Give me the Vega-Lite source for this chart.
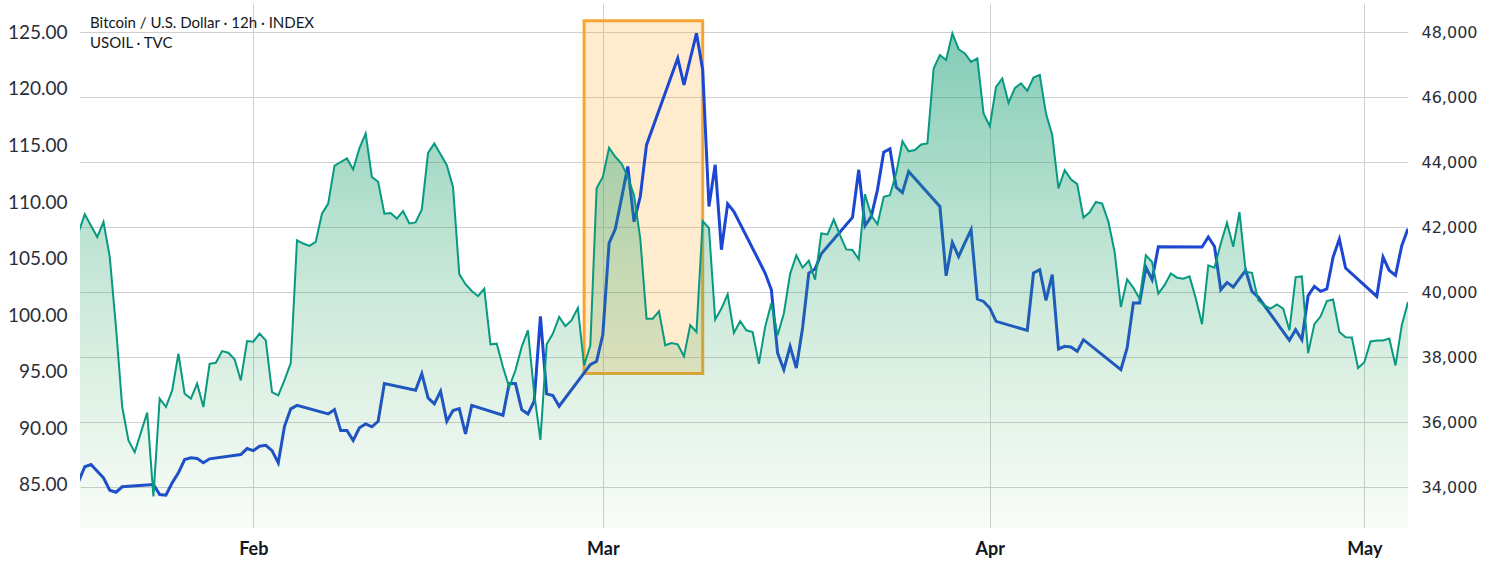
{
"$schema": "https://vega.github.io/schema/vega-lite/v6.json",
"width": 1328, "height": 525,
"autosize": "none",
"padding": {"left": 80, "top": 3, "right": 83, "bottom": 38},
"background": "white",
"config": {
 "view": {"stroke": null},
 "axisX": {"grid": true, "gridColor": "#cfcfcf", "domain": false, "ticks": false, "labelFont": "Lato", "labelFontSize": 18, "labelFontWeight": "bold", "labelColor": "#131722", "labelPadding": 12, "title": null}
},
"title": {"text": ["Bitcoin / U.S. Dollar · 12h · INDEX", "USOIL · TVC"], "anchor": "start", "frame": "group", "orient": "top", "offset": -48, "dx": 10, "font": "Lato", "fontSize": 15, "fontWeight": "normal", "color": "#131722", "lineHeight": 20},
"datasets": {
 "box": [{"start": "2022-02-27T12:00:00Z", "end": "2022-03-09T00:00:00Z", "high": 126.02, "low": 94.85}],
 "btc": [
{"t":"2022-01-18T00:00:00Z","v":41850},{"t":"2022-01-18T12:00:00Z","v":42400},{"t":"2022-01-19T00:00:00Z","v":42050},{"t":"2022-01-19T12:00:00Z","v":41700},
{"t":"2022-01-20T00:00:00Z","v":42170},{"t":"2022-01-20T12:00:00Z","v":41090},{"t":"2022-01-21T00:00:00Z","v":38930},{"t":"2022-01-21T12:00:00Z","v":36470},
{"t":"2022-01-22T00:00:00Z","v":35440},{"t":"2022-01-22T12:00:00Z","v":35080},{"t":"2022-01-23T00:00:00Z","v":35690},{"t":"2022-01-23T12:00:00Z","v":36300},
{"t":"2022-01-24T00:00:00Z","v":33720},{"t":"2022-01-24T12:00:00Z","v":36730},{"t":"2022-01-25T00:00:00Z","v":36470},{"t":"2022-01-25T12:00:00Z","v":36980},
{"t":"2022-01-26T00:00:00Z","v":38110},{"t":"2022-01-26T12:00:00Z","v":36880},{"t":"2022-01-27T00:00:00Z","v":36730},{"t":"2022-01-27T12:00:00Z","v":37190},
{"t":"2022-01-28T00:00:00Z","v":36470},{"t":"2022-01-28T12:00:00Z","v":37800},{"t":"2022-01-29T00:00:00Z","v":37830},{"t":"2022-01-29T12:00:00Z","v":38190},
{"t":"2022-01-30T00:00:00Z","v":38140},{"t":"2022-01-30T12:00:00Z","v":37940},{"t":"2022-01-31T00:00:00Z","v":37290},{"t":"2022-01-31T12:00:00Z","v":38500},
{"t":"2022-02-01T00:00:00Z","v":38480},{"t":"2022-02-01T12:00:00Z","v":38730},{"t":"2022-02-02T00:00:00Z","v":38520},{"t":"2022-02-02T12:00:00Z","v":36930},
{"t":"2022-02-03T00:00:00Z","v":36830},{"t":"2022-02-03T12:00:00Z","v":37300},{"t":"2022-02-04T00:00:00Z","v":37820},{"t":"2022-02-04T12:00:00Z","v":41600},
{"t":"2022-02-05T00:00:00Z","v":41500},{"t":"2022-02-05T12:00:00Z","v":41430},{"t":"2022-02-06T00:00:00Z","v":41550},{"t":"2022-02-06T12:00:00Z","v":42420},
{"t":"2022-02-07T00:00:00Z","v":42730},{"t":"2022-02-07T12:00:00Z","v":43890},{"t":"2022-02-08T00:00:00Z","v":44010},{"t":"2022-02-08T12:00:00Z","v":44120},
{"t":"2022-02-09T00:00:00Z","v":43780},{"t":"2022-02-09T12:00:00Z","v":44430},{"t":"2022-02-10T00:00:00Z","v":44890},{"t":"2022-02-10T12:00:00Z","v":43550},
{"t":"2022-02-11T00:00:00Z","v":43400},{"t":"2022-02-11T12:00:00Z","v":42420},{"t":"2022-02-12T00:00:00Z","v":42440},{"t":"2022-02-12T12:00:00Z","v":42270},
{"t":"2022-02-13T00:00:00Z","v":42500},{"t":"2022-02-13T12:00:00Z","v":42120},{"t":"2022-02-14T00:00:00Z","v":42150},{"t":"2022-02-14T12:00:00Z","v":42550},
{"t":"2022-02-15T00:00:00Z","v":44290},{"t":"2022-02-15T12:00:00Z","v":44580},{"t":"2022-02-16T00:00:00Z","v":44250},{"t":"2022-02-16T12:00:00Z","v":43910},
{"t":"2022-02-17T00:00:00Z","v":43240},{"t":"2022-02-17T12:00:00Z","v":40560},{"t":"2022-02-18T00:00:00Z","v":40250},{"t":"2022-02-18T12:00:00Z","v":40040},
{"t":"2022-02-19T00:00:00Z","v":39880},{"t":"2022-02-19T12:00:00Z","v":40110},{"t":"2022-02-20T00:00:00Z","v":38400},{"t":"2022-02-20T12:00:00Z","v":38420},
{"t":"2022-02-21T00:00:00Z","v":37700},{"t":"2022-02-21T12:00:00Z","v":37080},{"t":"2022-02-22T00:00:00Z","v":37600},{"t":"2022-02-22T12:00:00Z","v":38320},
{"t":"2022-02-23T00:00:00Z","v":38830},{"t":"2022-02-23T12:00:00Z","v":36900},{"t":"2022-02-24T00:00:00Z","v":35460},{"t":"2022-02-24T12:00:00Z","v":38400},
{"t":"2022-02-25T00:00:00Z","v":38730},{"t":"2022-02-25T12:00:00Z","v":39240},{"t":"2022-02-26T00:00:00Z","v":38960},{"t":"2022-02-26T12:00:00Z","v":39140},
{"t":"2022-02-27T00:00:00Z","v":39520},{"t":"2022-02-27T12:00:00Z","v":37750},{"t":"2022-02-28T00:00:00Z","v":38370},{"t":"2022-02-28T12:00:00Z","v":43200},
{"t":"2022-03-01T00:00:00Z","v":43550},{"t":"2022-03-01T12:00:00Z","v":44450},{"t":"2022-03-02T00:00:00Z","v":44170},{"t":"2022-03-02T12:00:00Z","v":43960},
{"t":"2022-03-03T00:00:00Z","v":43550},{"t":"2022-03-03T12:00:00Z","v":42990},{"t":"2022-03-04T00:00:00Z","v":41650},{"t":"2022-03-04T12:00:00Z","v":39190},
{"t":"2022-03-05T00:00:00Z","v":39190},{"t":"2022-03-05T12:00:00Z","v":39420},{"t":"2022-03-06T00:00:00Z","v":38370},{"t":"2022-03-06T12:00:00Z","v":38440},
{"t":"2022-03-07T00:00:00Z","v":38400},{"t":"2022-03-07T12:00:00Z","v":38030},{"t":"2022-03-08T00:00:00Z","v":38990},{"t":"2022-03-08T12:00:00Z","v":38780},
{"t":"2022-03-09T00:00:00Z","v":42190},{"t":"2022-03-09T12:00:00Z","v":41980},{"t":"2022-03-10T00:00:00Z","v":39160},{"t":"2022-03-10T12:00:00Z","v":39500},
{"t":"2022-03-11T00:00:00Z","v":39940},{"t":"2022-03-11T12:00:00Z","v":38750},{"t":"2022-03-12T00:00:00Z","v":39110},{"t":"2022-03-12T12:00:00Z","v":38830},
{"t":"2022-03-13T00:00:00Z","v":38780},{"t":"2022-03-13T12:00:00Z","v":37800},{"t":"2022-03-14T00:00:00Z","v":38930},{"t":"2022-03-14T12:00:00Z","v":39670},
{"t":"2022-03-15T00:00:00Z","v":38680},{"t":"2022-03-15T12:00:00Z","v":39350},{"t":"2022-03-16T00:00:00Z","v":40560},{"t":"2022-03-16T12:00:00Z","v":41140},
{"t":"2022-03-17T00:00:00Z","v":40760},{"t":"2022-03-17T12:00:00Z","v":40970},{"t":"2022-03-18T00:00:00Z","v":40390},{"t":"2022-03-18T12:00:00Z","v":41810},
{"t":"2022-03-19T00:00:00Z","v":41780},{"t":"2022-03-19T12:00:00Z","v":42240},{"t":"2022-03-20T00:00:00Z","v":41760},{"t":"2022-03-20T12:00:00Z","v":41320},
{"t":"2022-03-21T00:00:00Z","v":41300},{"t":"2022-03-21T12:00:00Z","v":41020},{"t":"2022-03-22T00:00:00Z","v":43020},{"t":"2022-03-22T12:00:00Z","v":42370},
{"t":"2022-03-23T00:00:00Z","v":42090},{"t":"2022-03-23T12:00:00Z","v":42940},{"t":"2022-03-24T00:00:00Z","v":42990},{"t":"2022-03-24T12:00:00Z","v":43660},
{"t":"2022-03-25T00:00:00Z","v":44650},{"t":"2022-03-25T12:00:00Z","v":44340},{"t":"2022-03-26T00:00:00Z","v":44380},{"t":"2022-03-26T12:00:00Z","v":44550},
{"t":"2022-03-27T00:00:00Z","v":44580},{"t":"2022-03-27T12:00:00Z","v":46890},{"t":"2022-03-28T00:00:00Z","v":47300},{"t":"2022-03-28T12:00:00Z","v":47150},
{"t":"2022-03-29T00:00:00Z","v":47970},{"t":"2022-03-29T12:00:00Z","v":47480},{"t":"2022-03-30T00:00:00Z","v":47350},{"t":"2022-03-30T12:00:00Z","v":47090},
{"t":"2022-03-31T00:00:00Z","v":47200},{"t":"2022-03-31T12:00:00Z","v":45500},{"t":"2022-04-01T00:00:00Z","v":45110},{"t":"2022-04-01T12:00:00Z","v":46320},
{"t":"2022-04-02T00:00:00Z","v":46580},{"t":"2022-04-02T12:00:00Z","v":45830},{"t":"2022-04-03T00:00:00Z","v":46280},{"t":"2022-04-03T12:00:00Z","v":46430},
{"t":"2022-04-04T00:00:00Z","v":46200},{"t":"2022-04-04T12:00:00Z","v":46610},{"t":"2022-04-05T00:00:00Z","v":46690},{"t":"2022-04-05T12:00:00Z","v":45500},
{"t":"2022-04-06T00:00:00Z","v":44840},{"t":"2022-04-06T12:00:00Z","v":43200},{"t":"2022-04-07T00:00:00Z","v":43760},{"t":"2022-04-07T12:00:00Z","v":43480},
{"t":"2022-04-08T00:00:00Z","v":43330},{"t":"2022-04-08T12:00:00Z","v":42300},{"t":"2022-04-09T00:00:00Z","v":42460},{"t":"2022-04-09T12:00:00Z","v":42780},
{"t":"2022-04-10T00:00:00Z","v":42730},{"t":"2022-04-10T12:00:00Z","v":42170},{"t":"2022-04-11T00:00:00Z","v":41240},{"t":"2022-04-11T12:00:00Z","v":39550},
{"t":"2022-04-12T00:00:00Z","v":40400},{"t":"2022-04-12T12:00:00Z","v":40140},{"t":"2022-04-13T00:00:00Z","v":39800},{"t":"2022-04-13T12:00:00Z","v":41140},
{"t":"2022-04-14T00:00:00Z","v":40930},{"t":"2022-04-14T12:00:00Z","v":39960},{"t":"2022-04-15T00:00:00Z","v":40220},{"t":"2022-04-15T12:00:00Z","v":40580},
{"t":"2022-04-16T00:00:00Z","v":40450},{"t":"2022-04-16T12:00:00Z","v":40420},{"t":"2022-04-17T00:00:00Z","v":40490},{"t":"2022-04-17T12:00:00Z","v":39810},
{"t":"2022-04-18T00:00:00Z","v":39020},{"t":"2022-04-18T12:00:00Z","v":40830},{"t":"2022-04-19T00:00:00Z","v":40760},{"t":"2022-04-19T12:00:00Z","v":41500},
{"t":"2022-04-20T00:00:00Z","v":42140},{"t":"2022-04-20T12:00:00Z","v":41400},{"t":"2022-04-21T00:00:00Z","v":42470},{"t":"2022-04-21T12:00:00Z","v":40630},
{"t":"2022-04-22T00:00:00Z","v":40600},{"t":"2022-04-22T12:00:00Z","v":39760},{"t":"2022-04-23T00:00:00Z","v":39600},{"t":"2022-04-23T12:00:00Z","v":39500},
{"t":"2022-04-24T00:00:00Z","v":39630},{"t":"2022-04-24T12:00:00Z","v":39500},{"t":"2022-04-25T00:00:00Z","v":38830},{"t":"2022-04-25T12:00:00Z","v":40470},
{"t":"2022-04-26T00:00:00Z","v":40490},{"t":"2022-04-26T12:00:00Z","v":38130},{"t":"2022-04-27T00:00:00Z","v":39020},{"t":"2022-04-27T12:00:00Z","v":39260},
{"t":"2022-04-28T00:00:00Z","v":39730},{"t":"2022-04-28T12:00:00Z","v":39780},{"t":"2022-04-29T00:00:00Z","v":38780},{"t":"2022-04-29T12:00:00Z","v":38620},
{"t":"2022-04-30T00:00:00Z","v":38610},{"t":"2022-04-30T12:00:00Z","v":37670},{"t":"2022-05-01T00:00:00Z","v":37850},{"t":"2022-05-01T12:00:00Z","v":38490},
{"t":"2022-05-02T00:00:00Z","v":38520},{"t":"2022-05-02T12:00:00Z","v":38520},{"t":"2022-05-03T00:00:00Z","v":38580},{"t":"2022-05-03T12:00:00Z","v":37750},
{"t":"2022-05-04T00:00:00Z","v":38990},{"t":"2022-05-04T12:00:00Z","v":39700}
 ],
 "oil": [
{"t":"2022-01-18T00:00:00Z","v":85.3},{"t":"2022-01-18T12:00:00Z","v":86.61},{"t":"2022-01-19T00:00:00Z","v":86.81},{"t":"2022-01-19T12:00:00Z","v":86.22},
{"t":"2022-01-20T00:00:00Z","v":85.64},{"t":"2022-01-20T12:00:00Z","v":84.54},{"t":"2022-01-21T00:00:00Z","v":84.36},{"t":"2022-01-21T12:00:00Z","v":84.84},
{"t":"2022-01-24T00:00:00Z","v":85.04},{"t":"2022-01-24T12:00:00Z","v":84.16},{"t":"2022-01-25T00:00:00Z","v":84.10},{"t":"2022-01-25T12:00:00Z","v":85.19},
{"t":"2022-01-26T00:00:00Z","v":86.08},{"t":"2022-01-26T12:00:00Z","v":87.25},{"t":"2022-01-27T00:00:00Z","v":87.40},{"t":"2022-01-27T12:00:00Z","v":87.34},
{"t":"2022-01-28T00:00:00Z","v":86.96},{"t":"2022-01-28T12:00:00Z","v":87.31},{"t":"2022-01-31T00:00:00Z","v":87.69},{"t":"2022-01-31T12:00:00Z","v":88.22},
{"t":"2022-02-01T00:00:00Z","v":88.04},{"t":"2022-02-01T12:00:00Z","v":88.42},{"t":"2022-02-02T00:00:00Z","v":88.51},{"t":"2022-02-02T12:00:00Z","v":88.04},
{"t":"2022-02-03T00:00:00Z","v":86.96},{"t":"2022-02-03T12:00:00Z","v":90.19},{"t":"2022-02-04T00:00:00Z","v":91.73},{"t":"2022-02-04T12:00:00Z","v":92.04},
{"t":"2022-02-07T00:00:00Z","v":91.28},{"t":"2022-02-07T12:00:00Z","v":91.66},{"t":"2022-02-08T00:00:00Z","v":89.81},{"t":"2022-02-08T12:00:00Z","v":89.81},
{"t":"2022-02-09T00:00:00Z","v":88.93},{"t":"2022-02-09T12:00:00Z","v":90.05},{"t":"2022-02-10T00:00:00Z","v":90.40},{"t":"2022-02-10T12:00:00Z","v":90.14},
{"t":"2022-02-11T00:00:00Z","v":90.63},{"t":"2022-02-11T12:00:00Z","v":93.96},{"t":"2022-02-14T00:00:00Z","v":93.37},{"t":"2022-02-14T12:00:00Z","v":94.84},
{"t":"2022-02-15T00:00:00Z","v":92.70},{"t":"2022-02-15T12:00:00Z","v":92.17},{"t":"2022-02-16T00:00:00Z","v":93.28},{"t":"2022-02-16T12:00:00Z","v":90.63},
{"t":"2022-02-17T00:00:00Z","v":91.58},{"t":"2022-02-17T12:00:00Z","v":91.75},{"t":"2022-02-18T00:00:00Z","v":89.52},{"t":"2022-02-18T12:00:00Z","v":92.04},
{"t":"2022-02-21T00:00:00Z","v":91.16},{"t":"2022-02-21T12:00:00Z","v":93.96},{"t":"2022-02-22T00:00:00Z","v":93.96},{"t":"2022-02-22T12:00:00Z","v":91.66},
{"t":"2022-02-23T00:00:00Z","v":91.28},{"t":"2022-02-23T12:00:00Z","v":92.40},{"t":"2022-02-24T00:00:00Z","v":99.90},{"t":"2022-02-24T12:00:00Z","v":93.05},
{"t":"2022-02-25T00:00:00Z","v":92.90},{"t":"2022-02-25T12:00:00Z","v":91.96},{"t":"2022-02-28T00:00:00Z","v":95.64},{"t":"2022-02-28T12:00:00Z","v":95.93},
{"t":"2022-03-01T00:00:00Z","v":98.28},{"t":"2022-03-01T12:00:00Z","v":106.38},{"t":"2022-03-02T00:00:00Z","v":107.61},{"t":"2022-03-02T12:00:00Z","v":110.35},
{"t":"2022-03-03T00:00:00Z","v":113.14},{"t":"2022-03-03T12:00:00Z","v":108.26},{"t":"2022-03-04T00:00:00Z","v":110.49},{"t":"2022-03-04T12:00:00Z","v":115.05},
{"t":"2022-03-07T00:00:00Z","v":122.71},{"t":"2022-03-07T12:00:00Z","v":120.35},{"t":"2022-03-08T00:00:00Z","v":122.64},{"t":"2022-03-08T12:00:00Z","v":124.91},
{"t":"2022-03-09T00:00:00Z","v":121.67},{"t":"2022-03-09T12:00:00Z","v":109.61},{"t":"2022-03-10T00:00:00Z","v":113.29},{"t":"2022-03-10T12:00:00Z","v":105.79},
{"t":"2022-03-11T00:00:00Z","v":109.85},{"t":"2022-03-11T12:00:00Z","v":109.17},{"t":"2022-03-14T00:00:00Z","v":103.73},{"t":"2022-03-14T12:00:00Z","v":102.25},
{"t":"2022-03-15T00:00:00Z","v":96.67},{"t":"2022-03-15T12:00:00Z","v":95.19},{"t":"2022-03-16T00:00:00Z","v":97.25},{"t":"2022-03-16T12:00:00Z","v":95.34},
{"t":"2022-03-17T00:00:00Z","v":98.87},{"t":"2022-03-17T12:00:00Z","v":103.73},{"t":"2022-03-18T00:00:00Z","v":104.08},{"t":"2022-03-18T12:00:00Z","v":105.43},
{"t":"2022-03-21T00:00:00Z","v":108.64},{"t":"2022-03-21T12:00:00Z","v":112.85},{"t":"2022-03-22T00:00:00Z","v":107.90},{"t":"2022-03-22T12:00:00Z","v":108.72},
{"t":"2022-03-23T00:00:00Z","v":111.08},{"t":"2022-03-23T12:00:00Z","v":114.41},{"t":"2022-03-24T00:00:00Z","v":114.70},{"t":"2022-03-24T12:00:00Z","v":111.32},
{"t":"2022-03-25T00:00:00Z","v":110.84},{"t":"2022-03-25T12:00:00Z","v":112.70},{"t":"2022-03-28T00:00:00Z","v":109.61},{"t":"2022-03-28T12:00:00Z","v":103.49},
{"t":"2022-03-29T00:00:00Z","v":106.43},{"t":"2022-03-29T12:00:00Z","v":105.19},{"t":"2022-03-30T00:00:00Z","v":106.40},{"t":"2022-03-30T12:00:00Z","v":107.55},
{"t":"2022-03-31T00:00:00Z","v":101.43},{"t":"2022-03-31T12:00:00Z","v":101.22},{"t":"2022-04-01T00:00:00Z","v":100.64},{"t":"2022-04-01T12:00:00Z","v":99.46},
{"t":"2022-04-04T00:00:00Z","v":98.66},{"t":"2022-04-04T12:00:00Z","v":103.73},{"t":"2022-04-05T00:00:00Z","v":104.02},{"t":"2022-04-05T12:00:00Z","v":101.31},
{"t":"2022-04-06T00:00:00Z","v":103.58},{"t":"2022-04-06T12:00:00Z","v":97.02},{"t":"2022-04-07T00:00:00Z","v":97.25},{"t":"2022-04-07T12:00:00Z","v":97.20},
{"t":"2022-04-08T00:00:00Z","v":96.81},{"t":"2022-04-08T12:00:00Z","v":97.84},{"t":"2022-04-11T12:00:00Z","v":95.19},{"t":"2022-04-12T00:00:00Z","v":97.11},
{"t":"2022-04-12T12:00:00Z","v":101.08},{"t":"2022-04-13T00:00:00Z","v":101.08},{"t":"2022-04-13T12:00:00Z","v":104.24},{"t":"2022-04-14T00:00:00Z","v":103.14},
{"t":"2022-04-14T12:00:00Z","v":106.05},{"t":"2022-04-18T00:00:00Z","v":106.02},{"t":"2022-04-18T12:00:00Z","v":106.91},{"t":"2022-04-19T00:00:00Z","v":106.08},
{"t":"2022-04-19T12:00:00Z","v":102.25},{"t":"2022-04-20T00:00:00Z","v":102.90},{"t":"2022-04-20T12:00:00Z","v":102.49},{"t":"2022-04-21T00:00:00Z","v":103.23},
{"t":"2022-04-21T12:00:00Z","v":103.96},{"t":"2022-04-22T00:00:00Z","v":102.11},{"t":"2022-04-22T12:00:00Z","v":101.61},{"t":"2022-04-25T00:00:00Z","v":97.78},
{"t":"2022-04-25T12:00:00Z","v":98.72},{"t":"2022-04-26T00:00:00Z","v":97.84},{"t":"2022-04-26T12:00:00Z","v":101.73},{"t":"2022-04-27T00:00:00Z","v":102.55},
{"t":"2022-04-27T12:00:00Z","v":102.11},{"t":"2022-04-28T00:00:00Z","v":102.32},{"t":"2022-04-28T12:00:00Z","v":105.14},{"t":"2022-04-29T00:00:00Z","v":106.73},
{"t":"2022-04-29T12:00:00Z","v":104.17},{"t":"2022-05-02T00:00:00Z","v":101.66},{"t":"2022-05-02T12:00:00Z","v":105.14},{"t":"2022-05-03T00:00:00Z","v":103.96},
{"t":"2022-05-03T12:00:00Z","v":103.52},{"t":"2022-05-04T00:00:00Z","v":106.14},{"t":"2022-05-04T12:00:00Z","v":107.64}
 ]
},
"layer": [
 {
  "data": {"name": "box"},
  "mark": {"type": "rect", "fill": "#ffa726", "fillOpacity": 0.22, "stroke": "#f7a531", "strokeWidth": 3},
  "encoding": {
   "x": {"field": "start", "type": "temporal", "scale": {"type": "utc", "domain": [{"year": 2022, "month": 1, "date": 18, "hours": 2, "minutes": 49, "utc": true}, {"year": 2022, "month": 5, "date": 4, "hours": 12, "utc": true}]}, "axis": {"values": [{"year": 2022, "month": 2, "date": 1, "utc": true}, {"year": 2022, "month": 3, "date": 1, "utc": true}, {"year": 2022, "month": 4, "date": 1, "utc": true}, {"year": 2022, "month": 5, "date": 1, "utc": true}], "format": "%b"}},
   "x2": {"field": "end"},
   "y": {"field": "high", "type": "quantitative", "scale": {"domain": [81.2, 127.59], "zero": false, "nice": false}, "axis": null},
   "y2": {"field": "low"}
  }
 },
 {
  "data": {"name": "oil"},
  "mark": {"type": "line", "color": "#1b47d2", "strokeWidth": 3, "clip": true},
  "encoding": {
   "x": {"field": "t", "type": "temporal", "scale": {"type": "utc", "domain": [{"year": 2022, "month": 1, "date": 18, "hours": 2, "minutes": 49, "utc": true}, {"year": 2022, "month": 5, "date": 4, "hours": 12, "utc": true}]}, "axis": {"values": [{"year": 2022, "month": 2, "date": 1, "utc": true}, {"year": 2022, "month": 3, "date": 1, "utc": true}, {"year": 2022, "month": 4, "date": 1, "utc": true}, {"year": 2022, "month": 5, "date": 1, "utc": true}], "format": "%b"}},
   "y": {"field": "v", "type": "quantitative", "scale": {"domain": [81.2, 127.59], "zero": false, "nice": false}, "axis": {"orient": "left", "values": [85, 90, 95, 100, 105, 110, 115, 120, 125], "format": ".2f", "grid": false, "domain": false, "ticks": false, "labelFont": "Lato", "labelFontSize": 19, "labelColor": "#2a2e39", "labelPadding": 13, "title": null}}
  }
 },
 {
  "data": {"name": "btc"},
  "mark": {"type": "area", "clip": true, "color": {"gradient": "linear", "x1": 0, "y1": 0, "x2": 0, "y2": 1, "stops": [{"offset": 0, "color": "rgba(20,158,118,0.76)"}, {"offset": 0.45, "color": "rgba(36,163,108,0.4)"}, {"offset": 1, "color": "rgba(76,175,80,0.05)"}]}, "line": {"color": "#089981", "strokeWidth": 2, "clip": true}},
  "encoding": {
   "x": {"field": "t", "type": "temporal", "scale": {"type": "utc", "domain": [{"year": 2022, "month": 1, "date": 18, "hours": 2, "minutes": 49, "utc": true}, {"year": 2022, "month": 5, "date": 4, "hours": 12, "utc": true}]}, "axis": {"values": [{"year": 2022, "month": 2, "date": 1, "utc": true}, {"year": 2022, "month": 3, "date": 1, "utc": true}, {"year": 2022, "month": 4, "date": 1, "utc": true}, {"year": 2022, "month": 5, "date": 1, "utc": true}], "format": "%b"}},
   "y": {"field": "v", "type": "quantitative", "scale": {"domain": [32748, 48902], "zero": false, "nice": false}, "axis": {"orient": "right", "values": [34000, 36000, 38000, 40000, 42000, 44000, 46000, 48000], "format": ",.0f", "grid": true, "gridColor": "#cfcfcf", "domain": false, "ticks": false, "labelFont": "DejaVu Sans", "labelFontSize": 16, "labelColor": "#2a2e39", "labelPadding": 13, "title": null}},
   "y2": {"datum": 32748}
  }
 }
],
"resolve": {"scale": {"y": "independent"}, "axis": {"y": "independent"}}
}
